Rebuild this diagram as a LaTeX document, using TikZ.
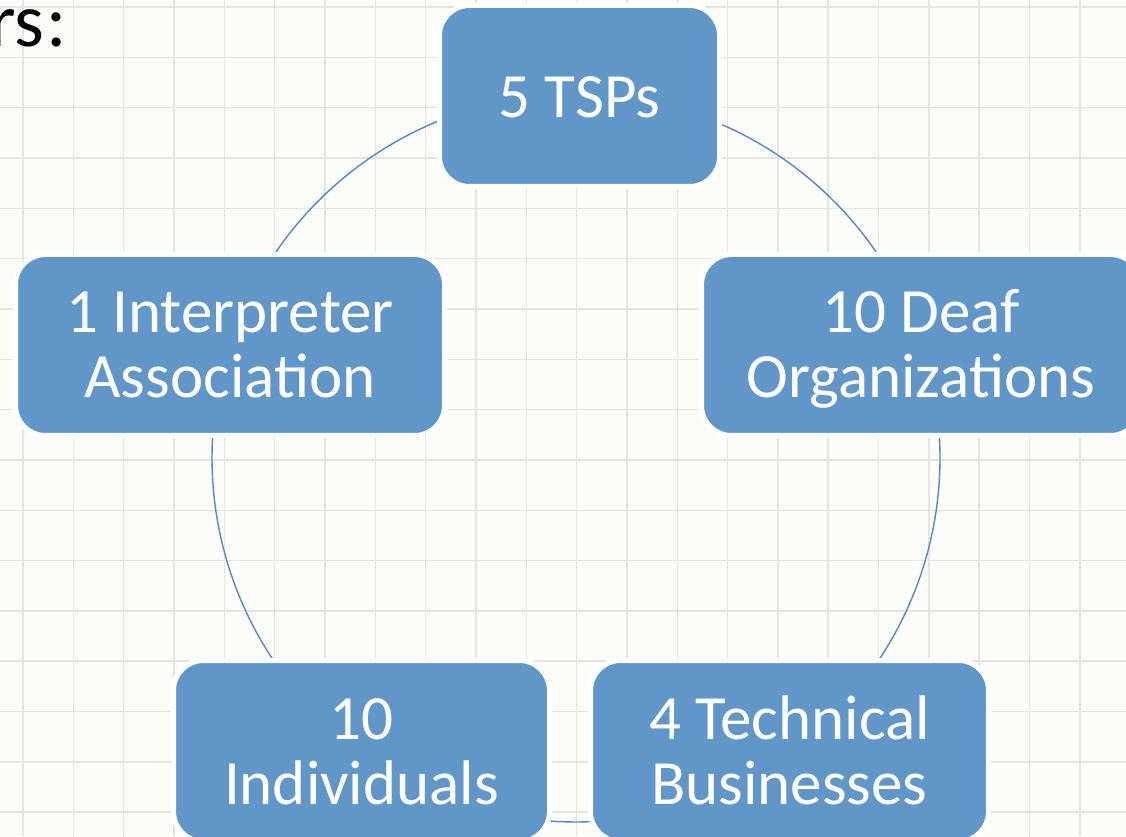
\documentclass[tikz,border=0pt]{standalone}
\usepackage{fontspec}
\setmainfont{Carlito}
\definecolor{bgcol}{RGB}{252,252,248}
\definecolor{gridcol}{RGB}{228,229,225}
\definecolor{boxblue}{RGB}{97,150,200}
\definecolor{arcblue}{RGB}{84,136,196}
\tikzset{
  gridline/.style={draw=gridcol, line width=1.6pt},
  cyclebox/.style={rectangle, rounded corners=30pt, fill=boxblue, draw=white,
    line width=5pt, inner sep=0pt, minimum height=181pt, text=white,
    align=center, font=\fontsize{63}{65}\selectfont},
  cyclearc/.style={draw=arcblue, line width=1.4pt},
}
\begin{document}
\begin{tikzpicture}[x=1pt,y=1pt]
\useasboundingbox (0,0) rectangle (1126,836);
\clip (0,0) rectangle (1126,836);
\fill[bgcol] (0,0) rectangle (1126,836);
% grid
\foreach \i in {0,...,22} \draw[gridline] ({23+50.33*\i},0) -- ++(0,836);
\foreach \j in {0,...,16} \draw[gridline] (0,{829-50.33*\j}) -- ++(1126,0);
% title fragment
\node[anchor=base west, inner sep=0pt, font=\fontsize{76}{78}\selectfont] (title) at (-11,789) {rs\kern2pt:};
% circle centre
\coordinate (O) at (576,378);
% connectors (arcs of the cycle)
\draw[cyclearc] ([shift={(111.6:364)}]O) arc[start angle=111.6, end angle=146.5, radius=364];
\draw[cyclearc] ([shift={(176.1:364)}]O) arc[start angle=176.1, end angle=214.3, radius=364];
\draw[cyclearc] ([shift={(265.4:364)}]O) arc[start angle=265.4, end angle=272.7, radius=364];
\draw[cyclearc] ([shift={(325.7:364)}]O) arc[start angle=325.7, end angle=363.9, radius=364];
\draw[cyclearc] ([shift={(33.5:364)}]O) arc[start angle=33.5, end angle=67.2, radius=364];
% boxes
\node[cyclebox, minimum width=280pt] (tsp) at (579.5,740) {\rule{0pt}{44pt}\smash{5 TSPs}};
\node[cyclebox, minimum width=429pt] (ia) at (230,491) {\rule{0pt}{41pt}\smash{1 Interpreter}\\\smash{Association}};
\node[cyclebox, minimum width=439pt] (deaf) at (921,491) {\rule{0pt}{41pt}\smash{10 Deaf}\\\smash{Organizations}};
\node[cyclebox, minimum width=376pt] (ind) at (361.5,85) {\rule{0pt}{41pt}\smash{10}\\\smash{Individuals}};
\node[cyclebox, minimum width=398pt] (tech) at (789.5,85) {\rule{0pt}{41pt}\smash{4 Technical}\\\smash{Businesses}};
\end{tikzpicture}
\end{document}
